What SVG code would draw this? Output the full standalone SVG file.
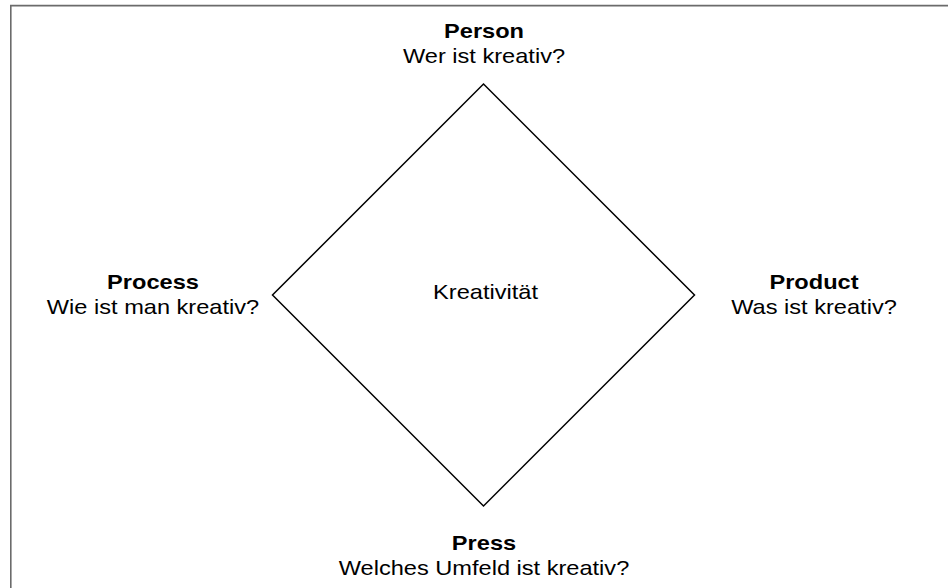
<svg xmlns="http://www.w3.org/2000/svg" width="948" height="588" viewBox="0 0 948 588">
  <style>
    .frame { fill: none; stroke: #6b6b6b; stroke-width: 1.6; }
    .shape { fill: #ffffff; stroke: #000000; stroke-width: 1.5; }
    text { font-family: "Liberation Sans", Arial, Helvetica, sans-serif; font-size: 20px; fill: #000000; text-anchor: middle; }
    .title { font-weight: bold; }
  </style>
  <rect width="948" height="588" fill="#ffffff"/>
  <!-- page frame: top and left edges only -->
  <path class="frame" d="M10.8 588 V5.6 H948"/>

  <g id="kreativitaet">
    <polygon class="shape" points="483.5,84 694.5,295 483.5,506 272.5,295"/>
    <g transform="translate(485.5 0) scale(1.18 1)">
      <text x="0" y="299.5">Kreativität</text>
    </g>
  </g>

  <g id="person" transform="translate(484 0) scale(1.18 1)">
    <text class="title" x="0" y="38">Person</text>
    <text x="0" y="63.5">Wer ist kreativ?</text>
  </g>

  <g id="process" transform="translate(153 0) scale(1.18 1)">
    <text class="title" x="0" y="289">Process</text>
    <text x="0" y="314">Wie ist man kreativ?</text>
  </g>

  <g id="product" transform="translate(814 0) scale(1.18 1)">
    <text class="title" x="0" y="289">Product</text>
    <text x="0" y="314">Was ist kreativ?</text>
  </g>

  <g id="press" transform="translate(484 0) scale(1.18 1)">
    <text class="title" x="0" y="550">Press</text>
    <text x="0" y="575">Welches Umfeld ist kreativ?</text>
  </g>

  <g id="connectors"></g>
</svg>
